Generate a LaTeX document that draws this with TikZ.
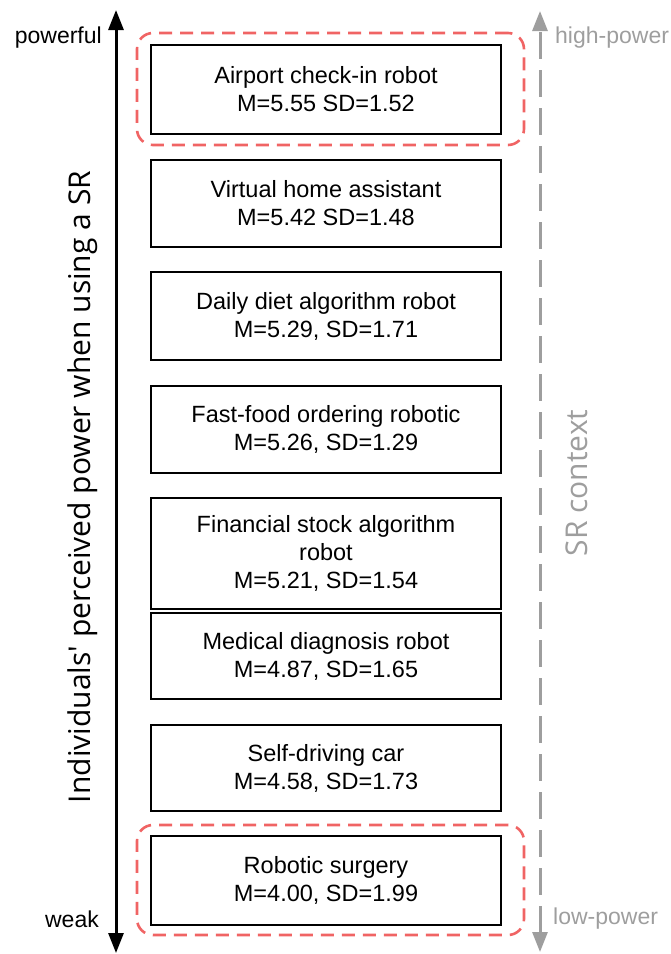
\documentclass[tikz,border=0pt]{standalone}
\usepackage{fontspec}
\setmainfont{Liberation Sans}
\newfontfamily\labelfont{Open Sans}
\usetikzlibrary{arrows.meta,fit}
\definecolor{hlred}{HTML}{F06464}
\definecolor{ctxgray}{HTML}{9E9E9E}
\tikzset{axistip/.tip={Triangle[length=20pt,width=15pt]}}
\begin{document}
\begin{tikzpicture}[x=1pt,y=-1pt,
  robotbox/.style={draw=black, line width=1.3pt, fill=white, minimum width=350pt,
    align=center, inner sep=0pt, font=\fontsize{23.5}{28}\selectfont},
  hlgroup/.style={draw=hlred, line width=2.6pt, dash pattern=on 13pt off 8pt,
    rounded corners=16pt, inner sep=0pt},
  endlabel/.style={font=\fontsize{23}{27}\selectfont, inner sep=0pt},
  sidelabel/.style={font=\labelfont\fontsize{30}{36}\selectfont, inner sep=0pt,
    rotate=90, anchor=base}]
\useasboundingbox (0,0) rectangle (671,954);

% highlighted groups (drawn first, boxes sit on top)
\node[hlgroup, fit={(137,33) (524,145)}] (highgroup) {};
\node[hlgroup, fit={(137,825) (524,935)}] (lowgroup) {};

% robot contexts, ordered by perceived power
\node[robotbox, minimum height=89pt]  (airport)   at (326,89.5)  {Airport check-in robot\\M=5.55 SD=1.52};
\node[robotbox, minimum height=87pt]  (assistant) at (326,203.5) {Virtual home assistant\\M=5.42 SD=1.48};
\node[robotbox, minimum height=88pt]  (diet)      at (326,316)   {Daily diet algorithm robot\\M=5.29, SD=1.71};
\node[robotbox, minimum height=87pt]  (fastfood)  at (326,429.5) {Fast-food ordering robotic\\M=5.26, SD=1.29};
\node[robotbox, minimum height=111pt] (financial) at (326,553.5) {Financial stock algorithm\\robot\\M=5.21, SD=1.54};
\node[robotbox, minimum height=86pt]  (medical)   at (326,656)   {Medical diagnosis robot\\M=4.87, SD=1.65};
\node[robotbox, minimum height=86pt]  (selfdrive) at (326,768)   {Self-driving car\\M=4.58, SD=1.73};
\node[robotbox, minimum height=89pt]  (surgery)   at (326,880.5) {Robotic surgery\\M=4.00, SD=1.99};

% perceived power axis
\coordinate (powtop) at (116,10);
\coordinate (powbot) at (116,953);
\draw[line width=3pt, {axistip}-{axistip}] (powbot) -- (powtop);
\node[endlabel, anchor=east] (powerful) at (102,38) {powerful};
\node[endlabel, anchor=east] (weak) at (99,919) {weak};
\node[sidelabel] (powerlabel) at (90,487) {Individuals' perceived power when using a SR};

% SR context axis
\coordinate (ctxtop) at (540,11);
\coordinate (ctxbot) at (540,952);
\draw[ctxgray, line width=3pt, dash pattern=on 27pt off 11pt, {axistip}-{axistip}]
  (ctxbot) -- (ctxtop);
\node[endlabel, ctxgray, anchor=west] (highpower) at (555,38) {high-power};
\node[endlabel, ctxgray, anchor=west] (lowpower) at (553,919) {low-power};
\node[sidelabel, ctxgray] (ctxlabel) at (587,483) {SR context};
\end{tikzpicture}
\end{document}
